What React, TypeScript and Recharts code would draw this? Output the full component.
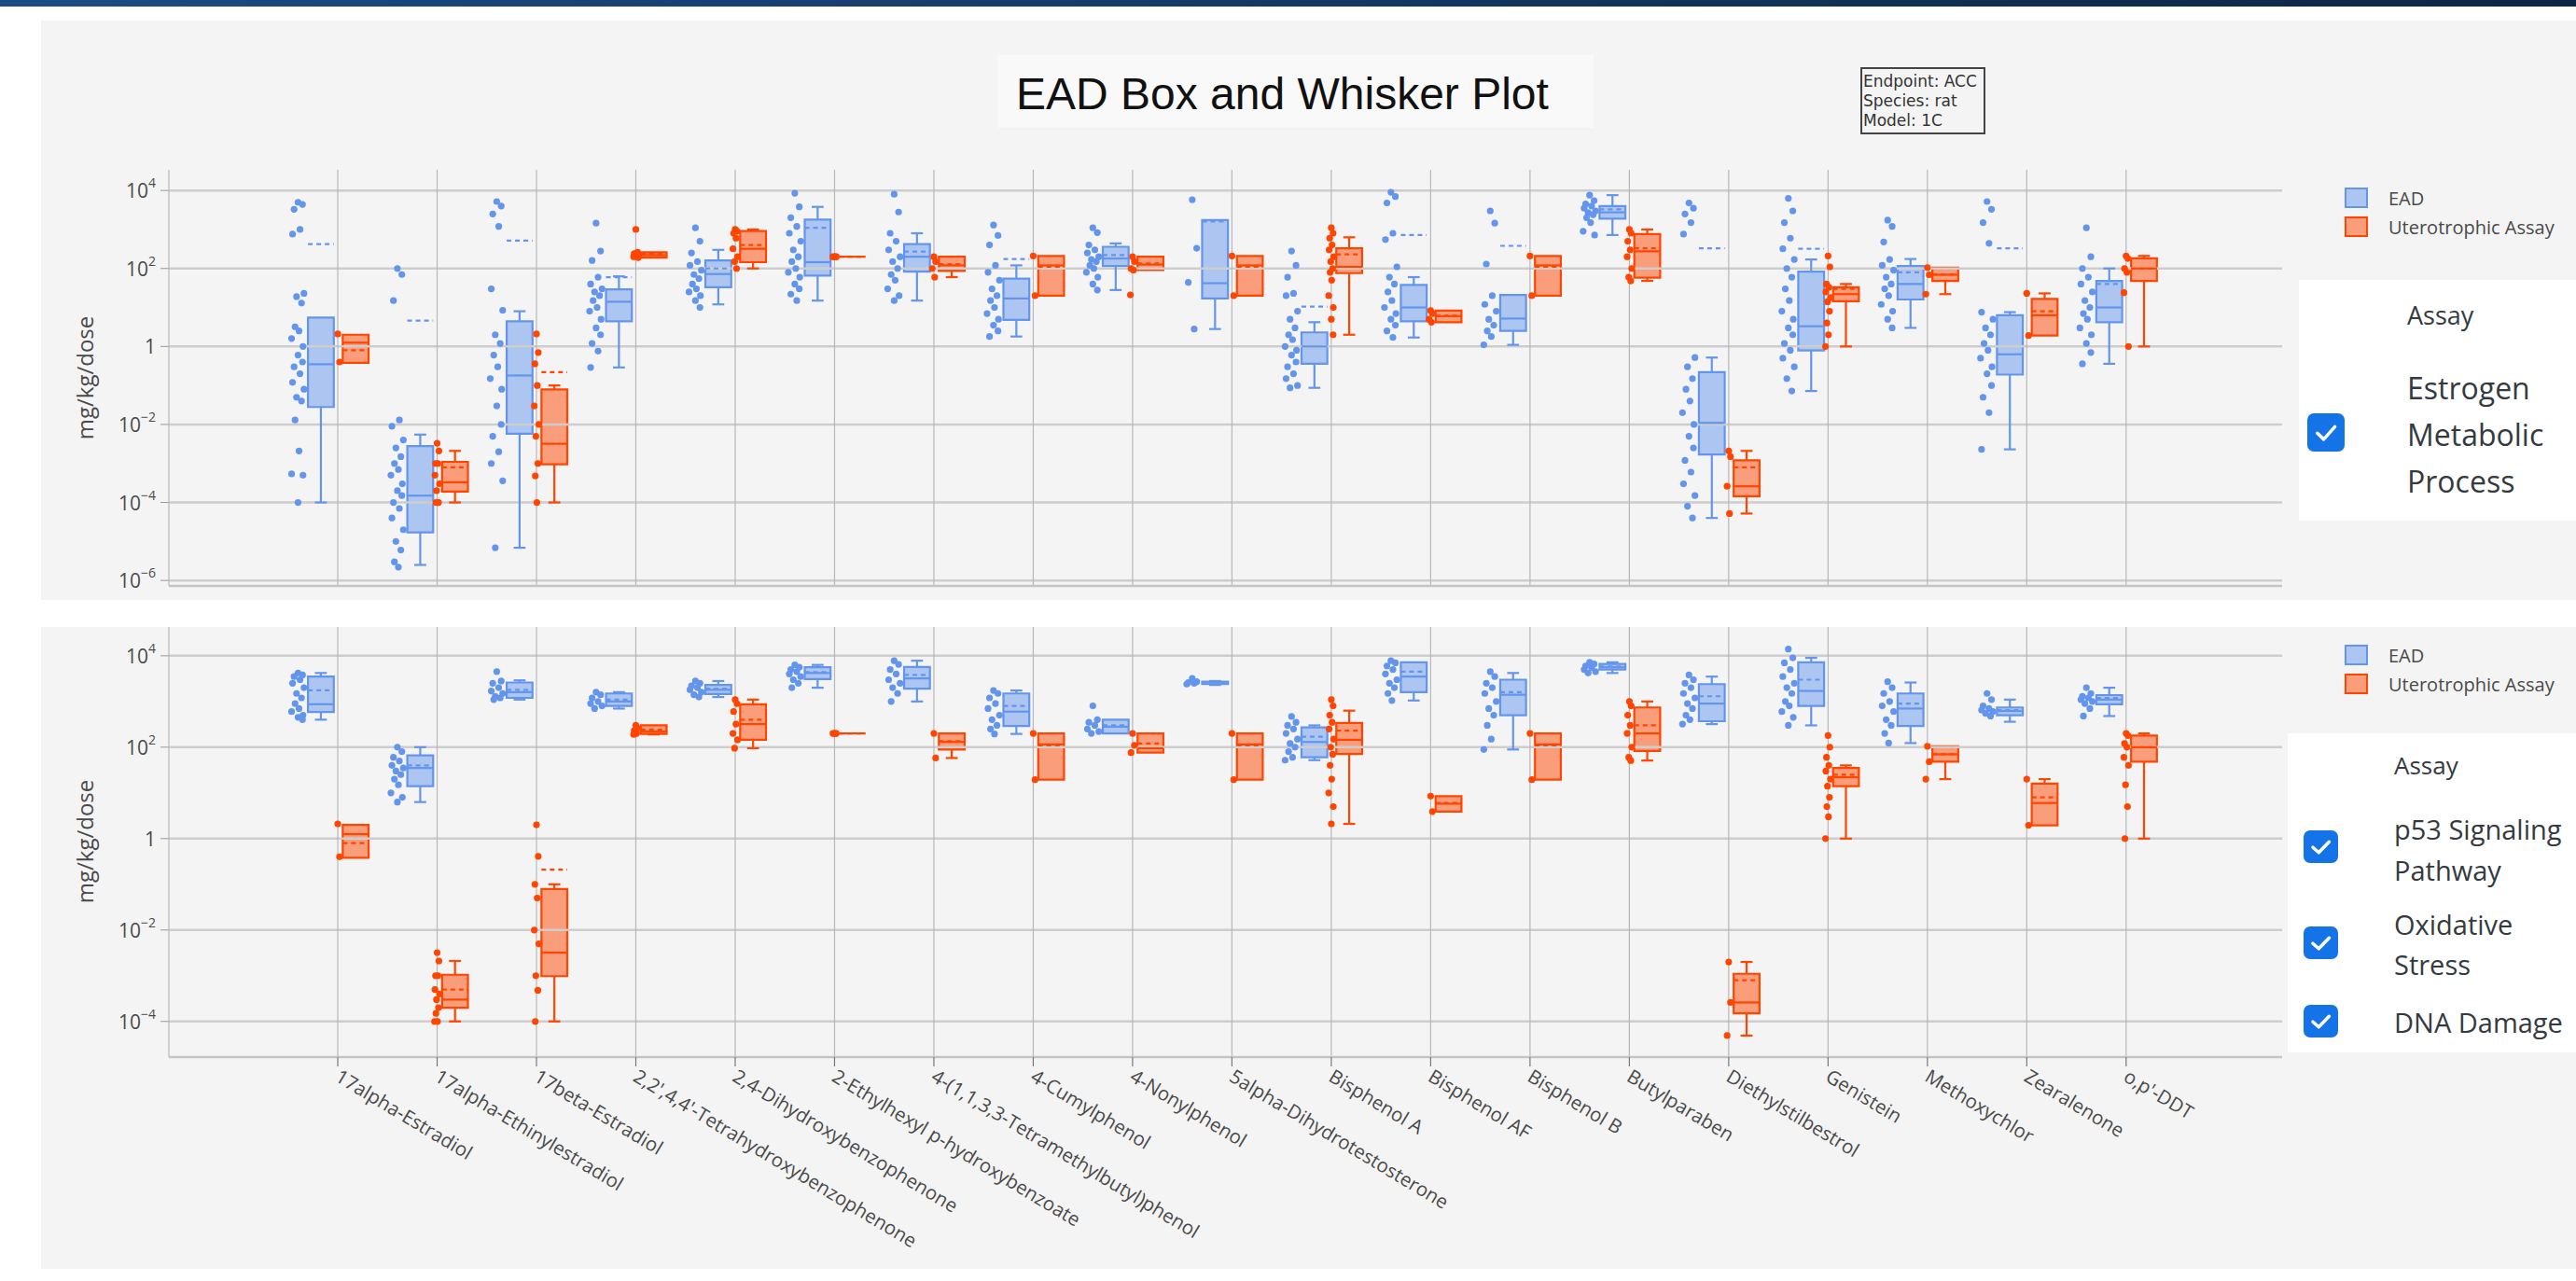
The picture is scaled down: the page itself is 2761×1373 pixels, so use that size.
import {
  ComposedChart, XAxis, YAxis, Scatter, ReferenceArea, ReferenceLine,
} from "recharts";

// ─── EAD box & whisker plot — two assay groups, log scale ────────────────────

const CATEGORIES = [
  "17alpha-Estradiol", "17alpha-Ethinylestradiol", "17beta-Estradiol",
  "2,2',4,4'-Tetrahydroxybenzophenone", "2,4-Dihydroxybenzophenone",
  "2-Ethylhexyl p-hydroxybenzoate", "4-(1,1,3,3-Tetramethylbutyl)phenol",
  "4-Cumylphenol", "4-Nonylphenol", "5alpha-Dihydrotestosterone", "Bisphenol A",
  "Bisphenol AF", "Bisphenol B", "Butylparaben", "Diethylstilbestrol", "Genistein",
  "Methoxychlor", "Zearalenone", "o,p'-DDT",
];

// box stats per category: [lower fence, q1, median, q3, upper fence, mean]
const EST_EAD_STATS = [
  [1e-4, 0.028, 0.35, 5.5, 5.5, 420], [2.5e-6, 1.7e-5, 1.5e-4, 2.8e-3, 5.5e-3, 4.6],
  [6.9e-6, 5.8e-3, 0.18, 4.4, 8, 520], [0.29, 4.4, 14, 29, 63, 60],
  [12, 33, 72, 160, 300, 100], [15, 66, 145, 1800, 3800, 1100],
  [15, 83, 200, 420, 800, 270], [1.8, 4.8, 17, 55, 120, 175],
  [28, 115, 180, 360, 440, 220], [2.8, 17, 42, 1740, 1740, 1600],
  [0.087, 0.36, 1.0, 2.3, 4.2, 10.5], [1.7, 4.4, 10, 38, 60, 720],
  [1.1, 2.5, 5.2, 21, 21, 380], [720, 1900, 2750, 4000, 7600, 3300],
  [4e-5, 1.7e-3, 0.011, 0.22, 0.52, 330], [0.072, 0.79, 3.3, 83, 170, 320],
  [3, 16, 40, 115, 175, 80], [2.3e-3, 0.19, 0.63, 6.3, 7.6, 330],
  [0.36, 4.2, 10, 48, 100, 40],
];
const EST_UT_STATS = [
  [0.38, 0.38, 1.25, 2.0, 2.0, 0.8], [1e-4, 1.9e-4, 3.3e-4, 1.1e-3, 2.1e-3, 8e-4],
  [1e-4, 9.5e-4, 3.2e-3, 0.079, 0.1, 0.22], [190, 190, 220, 260, 260, 240],
  [100, 145, 320, 910, 1000, 400], [200, 200, 200, 200, 200, 200],
  [60, 87, 120, 200, 200, 130], [20, 20, 120, 210, 210, 110],
  [91, 91, 126, 200, 200, 135], [20, 20, 120, 210, 210, 110],
  [2, 76, 110, 330, 630, 230], [4.2, 4.2, 6, 8.3, 8.3, 6.2],
  [20, 20, 120, 210, 210, 110], [48, 58, 275, 760, 1000, 330],
  [5.2e-5, 1.45e-4, 2.6e-4, 1.2e-3, 2.1e-3, 8e-4], [1, 14.5, 22, 33, 40, 30],
  [22, 48, 69, 105, 105, 70], [1.9, 1.9, 6.3, 16.6, 23, 8],
  [1, 48, 100, 182, 210, 100],
];
const EST_EAD_POINTS = [
  [5000, 4400, 3300, 1000, 760, 23, 19, 13, 3.2, 2.5, 1.6, 1.0, 0.6, 0.4, 0.3, 0.2, 0.12, 0.08, 0.05, 0.04, 0.013, 2.1e-3, 5.4e-4, 5e-4, 1e-4],
  [100, 70, 15, 0.013, 9e-3, 4e-3, 2.5e-3, 1.5e-3, 1e-3, 7e-4, 5e-4, 3e-4, 2e-4, 1.5e-4, 1e-4, 7e-5, 4e-5, 2e-5, 1e-5, 6e-6, 3e-6, 2.2e-6],
  [5200, 4000, 2500, 1200, 30, 8.5, 2, 1.2, 0.6, 0.3, 0.15, 0.08, 0.03, 0.01, 5e-3, 2e-3, 1e-3, 3.6e-4, 6.9e-6],
  [1450, 280, 160, 60, 40, 30, 25, 20, 15, 10, 8, 5, 3, 2, 1.2, 0.76, 0.29],
  [1100, 500, 250, 150, 120, 90, 70, 55, 40, 30, 25, 20, 15, 10],
  [8500, 3800, 2000, 1200, 800, 500, 300, 200, 150, 100, 80, 60, 40, 30, 22, 15],
  [8000, 2800, 800, 500, 300, 200, 150, 100, 70, 50, 30, 20, 15],
  [1300, 700, 400, 120, 80, 50, 30, 20, 15, 10, 7, 5, 3.5, 2.5, 1.8],
  [1100, 830, 400, 300, 250, 200, 170, 150, 120, 100, 80, 60, 40, 28],
  [5800, 330, 44, 2.8],
  [280, 120, 60, 23, 20, 8, 5, 3, 2, 1.5, 1, 0.8, 0.6, 0.4, 0.3, 0.2, 0.15, 0.1, 0.087],
  [9000, 7000, 4800, 800, 550, 110, 60, 40, 25, 15, 10, 7, 5, 3.5, 2.5, 1.7],
  [3000, 1450, 130, 20, 12, 8, 5, 3.5, 2.5, 1.8, 1.1],
  [7600, 5500, 4500, 4000, 3500, 3000, 2700, 2400, 2000, 1500, 900, 720],
  [4800, 3500, 2500, 1500, 760, 0.52, 0.3, 0.15, 0.08, 0.04, 0.02, 0.01, 5e-3, 2.5e-3, 1.2e-3, 6e-4, 3e-4, 1.5e-4, 8e-5, 4e-5],
  [6300, 3000, 1500, 600, 320, 170, 100, 60, 30, 15, 8, 5, 3, 2, 1.2, 0.8, 0.5, 0.3, 0.15, 0.072],
  [1740, 1200, 480, 170, 120, 90, 60, 40, 30, 20, 12, 8, 5, 3],
  [5200, 3300, 1500, 440, 7.6, 5, 3, 2, 1.2, 0.8, 0.5, 0.3, 0.2, 0.1, 0.05, 0.02, 2.3e-3],
  [1100, 200, 100, 60, 40, 25, 15, 10, 7, 5, 3, 2, 1.2, 0.7, 0.36],
];
const EST_UT_POINTS = [
  [2.1, 0.4], [3.3e-3, 2.1e-3, 1e-3, 1e-3, 5e-4, 3e-4, 2e-4, 1e-4, 1e-4, 1e-4],
  [2.1, 0.7, 0.36, 0.1, 0.03, 0.01, 5e-3, 1e-3, 4.8e-4, 1e-4], [1000, 260, 240, 220, 200, 190],
  [1000, 900, 800, 600, 320, 200, 150, 100], [200, 200, 200, 200], [200, 150, 100, 60],
  [210, 20], [200, 150, 100, 91, 21], [210, 20],
  [1100, 800, 600, 400, 300, 200, 150, 100, 80, 50, 20, 10, 5, 2], [8.3, 7, 5, 4.2],
  [210, 20], [1000, 800, 500, 300, 200, 100, 60, 48], [2.1e-3, 1.5e-3, 2.6e-4, 5.2e-5],
  [210, 110, 40, 33, 25, 18, 14, 8, 4, 2, 1], [105, 69, 22], [23, 1.9],
  [210, 180, 100, 80, 24, 1],
];

const STR_EAD_STATS = [
  [400, 590, 870, 3500, 4200, 1750], [6.3, 14, 35, 66, 100, 40],
  [1100, 1200, 1600, 2600, 2900, 1800], [700, 800, 1000, 1500, 1600, 1100],
  [1250, 1450, 1800, 2300, 2800, 1900], [2000, 3100, 4200, 5600, 6300, 4400],
  [1000, 1900, 3200, 5700, 7800, 3800], [195, 290, 600, 1500, 1740, 800],
  [200, 200, 280, 400, 400, 300], [2300, 2400, 2600, 2700, 2800, 2600],
  [52, 60, 130, 270, 300, 170], [1050, 1600, 3500, 7200, 7200, 4500],
  [89, 500, 1400, 3000, 4200, 1600], [4200, 5000, 5600, 6600, 7200, 5800],
  [320, 370, 900, 2400, 3500, 1300], [300, 800, 1700, 7200, 9000, 3000],
  [123, 290, 700, 1500, 2600, 900], [360, 500, 620, 740, 1100, 650],
  [480, 870, 1100, 1380, 2000, 1200],
];
const STR_UT_STATS = [
  [0.38, 0.38, 1.25, 2.0, 2.0, 0.8], [1e-4, 2e-4, 3e-4, 1.05e-3, 2.1e-3, 5e-4],
  [1e-4, 9.8e-4, 3.2e-3, 0.079, 0.1, 0.21], [190, 195, 220, 300, 300, 240],
  [95, 145, 320, 870, 1100, 400], [200, 200, 200, 200, 200, 200],
  [58, 89, 130, 200, 200, 135], [19.5, 19.5, 115, 200, 200, 110],
  [76, 76, 95, 200, 200, 120], [19.5, 19.5, 115, 200, 200, 110],
  [2.1, 71, 145, 340, 630, 230], [3.9, 3.9, 5.8, 8.5, 8.5, 6],
  [19.5, 19.5, 115, 200, 200, 110], [51, 83, 200, 740, 1000, 300],
  [4.9e-5, 1.5e-4, 2.6e-4, 1.1e-3, 2e-3, 8e-4], [1, 14, 22, 35, 40, 25],
  [20, 48, 70, 105, 105, 70], [1.95, 1.95, 6, 16, 20, 8],
  [1, 48, 100, 180, 200, 100],
];
const STR_EAD_POINTS = [
  [4200, 3800, 3500, 3000, 2500, 2000, 1500, 1200, 900, 700, 600, 500, 450, 400],
  [100, 80, 60, 50, 40, 35, 30, 25, 20, 15, 10, 8, 6.3],
  [4500, 2800, 2500, 2000, 1700, 1500, 1300, 1200, 1100],
  [1600, 1400, 1200, 1000, 900, 800, 700],
  [2800, 2500, 2200, 2000, 1800, 1600, 1400, 1250],
  [6300, 5600, 5000, 4500, 4000, 3500, 3000, 2500, 2000],
  [7800, 6500, 5000, 4000, 3000, 2500, 2000, 1500, 1000],
  [1740, 1500, 1200, 900, 700, 500, 400, 300, 250, 195],
  [800, 400, 350, 300, 250, 220, 200],
  [3200, 2700, 2600, 2500, 2400],
  [470, 350, 300, 250, 200, 150, 120, 100, 80, 60, 52],
  [7800, 7000, 6000, 5000, 4000, 3000, 2500, 2000, 1500, 1050],
  [4500, 3500, 2500, 2000, 1500, 1000, 700, 500, 300, 150, 89],
  [7200, 6600, 6000, 5500, 5000, 4500, 4200],
  [3800, 3000, 2500, 2000, 1500, 1200, 900, 700, 500, 400, 320],
  [14000, 9000, 7000, 5000, 3500, 2500, 2000, 1500, 1000, 800, 600, 450, 300],
  [2700, 2000, 1500, 1000, 800, 600, 400, 300, 200, 123],
  [1500, 1100, 800, 700, 650, 600, 550, 480],
  [2000, 1500, 1300, 1200, 1100, 1000, 900, 700, 480],
];
const STR_UT_POINTS = [
  [2.1, 0.4], [3.2e-3, 2.1e-3, 1e-3, 1e-3, 5e-4, 4e-4, 3e-4, 2e-4, 1.5e-4, 1e-4, 1e-4],
  [2.0, 0.41, 0.1, 0.05, 0.01, 5e-3, 1e-3, 4.8e-4, 1e-4], [300, 260, 230, 200, 190],
  [1100, 900, 600, 320, 200, 145, 95], [200, 200, 200, 200], [200, 58], [200, 19.5],
  [200, 110, 76], [200, 19.5], [1100, 800, 500, 350, 250, 150, 100, 70, 40, 20, 10, 5, 2.1],
  [8.5, 3.9], [200, 19.5], [1000, 800, 500, 300, 200, 100, 60, 51], [2e-3, 2.6e-4, 4.9e-5],
  [180, 100, 60, 40, 30, 20, 14, 8, 5, 3, 1], [105, 48, 20], [20, 1.95],
  [200, 180, 120, 100, 60, 40, 15, 5, 1],
];

const EST_Y_TICKS = [1e-6, 1e-4, 1e-2, 1, 1e2, 1e4];
const STR_Y_TICKS = [1e-4, 1e-2, 1, 1e2, 1e4];

// ─── styling / layout ────────────────────────────────────────────────────────
const FONT       = "'Open Sans', 'Noto Sans', sans-serif";
const EAD_COLOR  = "#6495ED";
const EAD_FILL   = "rgba(100,149,237,0.5)";
const UT_COLOR   = "#FF4500";
const UT_FILL    = "rgba(255,69,0,0.5)";
const PANEL_BG   = "#f4f4f4";
const TEXT_COLOR = "#4a4a4a";

const EAD_BOX_POS = -0.17;
const UT_BOX_POS  = 0.18;
const BOX_HALF    = 0.13;
const CAP_HALF    = 0.06;
const EAD_PT_POS  = -0.4;
const UT_PT_POS   = 0.0;
const JITTER      = [0, 0.045, -0.04, 0.02, -0.055, 0.06, -0.015, 0.035, -0.03, 0.01, -0.065, 0.05];

const X_DOMAIN = [-1.7, 19.57];
const X_TICKS  = CATEGORIES.map((_, i) => i);

function toPoints(values: number[][], pos: number, spread: number) {
  return values.flatMap((vals, i) =>
    vals.map((v, j) => ({ x: i + pos + JITTER[j % JITTER.length] * spread, y: v })));
}

// grid drawn as reference lines at the tick values (no frame around the plot)
function renderGrid(yTicks: number[]) {
  return [
    ...yTicks.map((t) => (
      <ReferenceLine key={`gy${t}`} y={t} stroke="#cdcdcd" strokeWidth={2.5} ifOverflow="visible" />
    )),
    ...X_TICKS.map((t) => (
      <ReferenceLine key={`gx${t}`} x={t} stroke="#b8b8b8" strokeWidth={1.2} ifOverflow="visible" />
    )),
  ];
}

function renderBoxes(stats: number[][], pos: number, color: string, fill: string, id: string) {
  const line = { stroke: color, strokeWidth: 2.2, ifOverflow: "visible" as const };
  return stats.flatMap(([lo, q1, med, q3, hi, mean], i) => {
    const c = i + pos, l = c - BOX_HALF, r = c + BOX_HALF;
    const out = [];
    if (lo < q1) {
      out.push(<ReferenceLine key={`${id}lw${i}`} segment={[{ x: c, y: lo }, { x: c, y: q1 }]} {...line} />);
      out.push(<ReferenceLine key={`${id}lc${i}`} segment={[{ x: c - CAP_HALF, y: lo }, { x: c + CAP_HALF, y: lo }]} {...line} />);
    }
    if (hi > q3) {
      out.push(<ReferenceLine key={`${id}uw${i}`} segment={[{ x: c, y: q3 }, { x: c, y: hi }]} {...line} />);
      out.push(<ReferenceLine key={`${id}uc${i}`} segment={[{ x: c - CAP_HALF, y: hi }, { x: c + CAP_HALF, y: hi }]} {...line} />);
    }
    out.push(
      <ReferenceArea key={`${id}b${i}`} x1={l} x2={r} y1={q1} y2={q3}
        fill={fill} fillOpacity={1} stroke={color} strokeWidth={2.2} ifOverflow="visible" />,
    );
    out.push(<ReferenceLine key={`${id}m${i}`} segment={[{ x: l, y: med }, { x: r, y: med }]} {...line} />);
    out.push(<ReferenceLine key={`${id}a${i}`} segment={[{ x: l, y: mean }, { x: r, y: mean }]} {...line} strokeDasharray="5 4" />);
    return out;
  });
}

const dot = (color: string) => (p: any) => <circle cx={p.cx} cy={p.cy} r={3.6} fill={color} />;

function LogTick({ x, y, payload }: any) {
  const e = Math.round(Math.log10(payload.value));
  return (
    <text x={x} y={y} textAnchor="end" dominantBaseline="central" fill={TEXT_COLOR} fontSize={21} fontFamily={FONT}>
      {e === 0 ? "1" : (
        <>
          <tspan>10</tspan>
          <tspan dy={-9} fontSize={14}>{e < 0 ? `\u2212${-e}` : e}</tspan>
        </>
      )}
    </text>
  );
}

function CategoryTick({ x, y, payload }: any) {
  return (
    <text x={x} y={y} transform={`rotate(31, ${x}, ${y})`} textAnchor="start" dominantBaseline="central"
      fill={TEXT_COLOR} fontSize={20.5} fontFamily={FONT}>
      {CATEGORIES[payload.value]}
    </text>
  );
}

interface PanelProps {
  eadStats: number[][]; utStats: number[][];
  eadPoints: number[][]; utPoints: number[][];
  yTicks: number[]; yDomain: number[];
  height: number; top: number; bottom: number; xHeight: number; labels: boolean;
}

function BoxPanel({ eadStats, utStats, eadPoints, utPoints, yTicks, yDomain, height, top, bottom, xHeight, labels }: PanelProps) {
  return (
    <ComposedChart width={2470} height={height} margin={{ top, right: 24, bottom, left: 81 }}>
      <XAxis type="number" dataKey="x" domain={X_DOMAIN} ticks={X_TICKS} interval={0} allowDataOverflow
        height={xHeight} axisLine={{ stroke: "#c4c4c4", strokeWidth: 2.5 }}
        tickLine={{ stroke: "#777", strokeWidth: 1.2 }} tickSize={10} tickMargin={8}
        tick={labels ? <CategoryTick /> : false} />
      <YAxis type="number" dataKey="y" scale="log" domain={yDomain} ticks={yTicks} allowDataOverflow
        width={100} axisLine={{ stroke: "#c4c4c4", strokeWidth: 1.5 }}
        tickLine={{ stroke: "#999" }} tickSize={9} tickMargin={5} tick={<LogTick />} />
      {renderGrid(yTicks)}
      {renderBoxes(eadStats, EAD_BOX_POS, EAD_COLOR, EAD_FILL, "e")}
      {renderBoxes(utStats, UT_BOX_POS, UT_COLOR, UT_FILL, "u")}
      <Scatter data={toPoints(eadPoints, EAD_PT_POS, 1)} shape={dot(EAD_COLOR)} isAnimationActive={false} />
      <Scatter data={toPoints(utPoints, UT_PT_POS, 0.4)} shape={dot(UT_COLOR)} isAnimationActive={false} />
    </ComposedChart>
  );
}

function Checkbox({ x, y, w = 40, h = 40 }: { x: number; y: number; w?: number; h?: number }) {
  return (
    <g>
      <rect x={x} y={y} width={w} height={h} rx={7} fill="#1473e6" />
      <polyline points={`${x + w * 0.27},${y + h * 0.52} ${x + w * 0.44},${y + h * 0.68} ${x + w * 0.74},${y + h * 0.35}`}
        fill="none" stroke="#fff" strokeWidth={3.5} strokeLinecap="round" strokeLinejoin="round" />
    </g>
  );
}

function SeriesLegend({ y }: { y: number }) {
  return (
    <g fontFamily={FONT} fontSize={20} fill={TEXT_COLOR}>
      <rect x={2514} y={y - 10} width={23} height={20} fill={EAD_FILL} stroke={EAD_COLOR} strokeWidth={2} />
      <text x={2560} y={y} dominantBaseline="central">EAD</text>
      <rect x={2514} y={y + 21} width={23} height={20} fill={UT_FILL} stroke={UT_COLOR} strokeWidth={2} />
      <text x={2560} y={y + 31} dominantBaseline="central">Uterotrophic Assay</text>
    </g>
  );
}

export default function App() {
  return (
    <div style={{ position: "absolute", left: 0, top: 0, width: 2761, height: 1373, background: "#fff", overflow: "hidden" }}>
      <svg width={2761} height={1373} style={{ position: "absolute", left: 0, top: 0 }}>
        <defs>
          <linearGradient id="banner" x1="0" x2="1" y1="0" y2="0">
            <stop offset="0" stopColor="#1b4c84" />
            <stop offset="1" stopColor="#0c2544" />
          </linearGradient>
        </defs>
        <rect x={0} y={0} width={2761} height={7} fill="url(#banner)" />
        <rect x={44} y={22} width={2717} height={621} fill={PANEL_BG} />
        <rect x={44} y={672} width={2717} height={688} fill={PANEL_BG} />

        {/* title */}
        <rect x={1069} y={59} width={639} height={78} fill="#f9f9f9" />
        <text x={1089} y={117} fontFamily="'Liberation Sans', Arial, sans-serif" fontSize={48} fill="#111">
          EAD Box and Whisker Plot
        </text>

        {/* endpoint box */}
        <rect x={1995} y={73} width={132} height={70} fill="none" stroke="#444" strokeWidth={2} />
        <g fontFamily="'DejaVu Sans', sans-serif" fontSize={17} fill="#333">
          <text x={1997} y={93}>Endpoint: ACC</text>
          <text x={1997} y={114}>Species: rat</text>
          <text x={1997} y={135}>Model: 1C</text>
        </g>

        {/* y-axis titles */}
        <text x={90} y={405} transform="rotate(-90, 90, 405)" textAnchor="middle" dominantBaseline="central"
          fontFamily={FONT} fontSize={24} fill={TEXT_COLOR}>mg/kg/dose</text>
        <text x={90} y={902} transform="rotate(-90, 90, 902)" textAnchor="middle" dominantBaseline="central"
          fontFamily={FONT} fontSize={24} fill={TEXT_COLOR}>mg/kg/dose</text>

        {/* legends */}
        <SeriesLegend y={212} />
        <SeriesLegend y={702} />

        {/* assay selectors */}
        <rect x={2464} y={300} width={297} height={258} fill="#fff" />
        <g fontFamily={FONT} fill="#343a40" dominantBaseline="central">
          <text x={2580} y={337} fontSize={27}>Assay</text>
          <text x={2580} y={415} fontSize={32}>Estrogen</text>
          <text x={2580} y={465} fontSize={32}>Metabolic</text>
          <text x={2580} y={515} fontSize={32}>Process</text>
        </g>
        <Checkbox x={2473} y={443} w={40} h={41} />

        <rect x={2452} y={786} width={309} height={342} fill="#fff" />
        <g fontFamily={FONT} fill="#343a40" dominantBaseline="central">
          <text x={2566} y={820} fontSize={26}>Assay</text>
          <text x={2566} y={888} fontSize={29}>p53 Signaling</text>
          <text x={2566} y={932} fontSize={29}>Pathway</text>
          <text x={2566} y={990} fontSize={29}>Oxidative</text>
          <text x={2566} y={1033} fontSize={29}>Stress</text>
          <text x={2566} y={1095} fontSize={29}>DNA Damage</text>
        </g>
        <Checkbox x={2469} y={890} w={37} h={35} />
        <Checkbox x={2469} y={993} w={37} h={35} />
        <Checkbox x={2469} y={1077} w={37} h={35} />
      </svg>

      <div style={{ position: "absolute", left: 0, top: 0 }}>
        <BoxPanel eadStats={EST_EAD_STATS} utStats={EST_UT_STATS}
          eadPoints={EST_EAD_POINTS} utPoints={EST_UT_POINTS}
          yTicks={EST_Y_TICKS} yDomain={[10 ** -6.14, 10 ** 4.53]}
          height={660} top={182} bottom={2} xHeight={30} labels={false} />
      </div>
      <div style={{ position: "absolute", left: 0, top: 640 }}>
        <BoxPanel eadStats={STR_EAD_STATS} utStats={STR_UT_STATS}
          eadPoints={STR_EAD_POINTS} utPoints={STR_UT_POINTS}
          yTicks={STR_Y_TICKS} yDomain={[10 ** -4.78, 10 ** 4.63]}
          height={733} top={32} bottom={10} xHeight={230} labels />
      </div>
    </div>
  );
}
